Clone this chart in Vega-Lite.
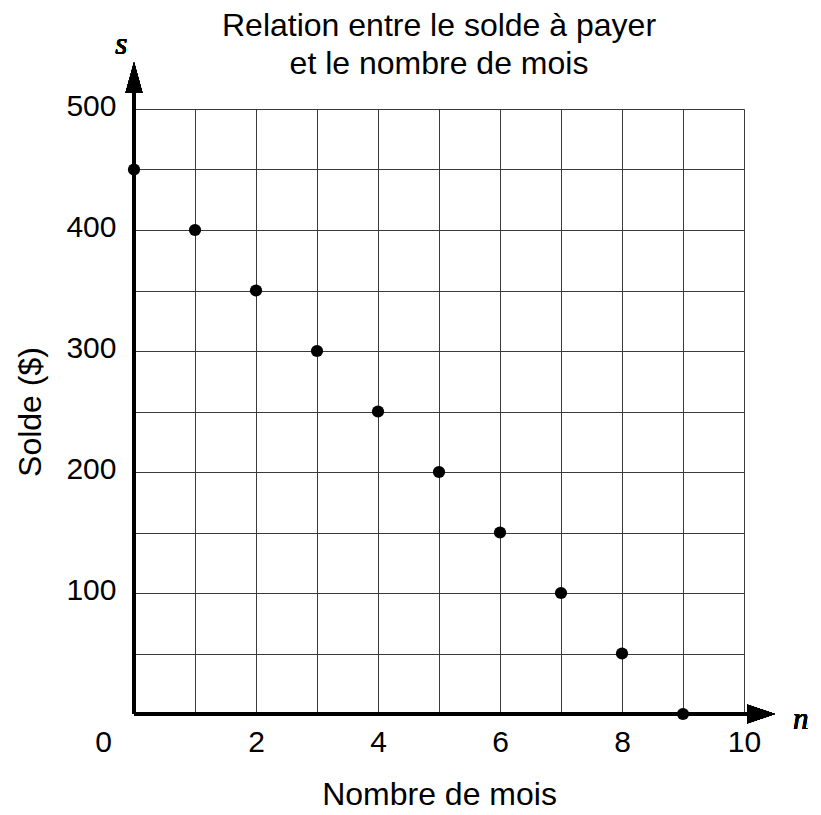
{
  "$schema": "https://vega.github.io/schema/vega-lite/v6.json",
  "width": 610,
  "height": 605,
  "autosize": "none",
  "padding": {"left": 134, "top": 109, "right": 77, "bottom": 101},
  "background": "white",
  "config": {"view": {"stroke": null}, "font": "Liberation Sans"},
  "title": {
    "text": ["Relation entre le solde à payer", "et le nombre de mois"],
    "font": "Liberation Sans",
    "fontSize": 32,
    "fontWeight": "normal",
    "color": "black",
    "anchor": "middle",
    "lineHeight": 38,
    "offset": -52
  },
  "datasets": {
    "points": [
      {"n": 0, "s": 450},
      {"n": 1, "s": 400},
      {"n": 2, "s": 350},
      {"n": 3, "s": 300},
      {"n": 4, "s": 250},
      {"n": 5, "s": 200},
      {"n": 6, "s": 150},
      {"n": 7, "s": 100},
      {"n": 8, "s": 50},
      {"n": 9, "s": 0}
    ]
  },
  "data": {"name": "points"},
  "layer": [
    {
      "mark": {"type": "point", "opacity": 0},
      "encoding": {
        "x": {
          "field": "n",
          "type": "quantitative",
          "scale": {"domain": [0, 10], "nice": false, "zero": true},
          "axis": {
            "title": "Nombre de mois",
            "titleFont": "Liberation Sans",
            "titleFontSize": 32,
            "titleFontWeight": "normal",
            "titleColor": "black",
            "titlePadding": 22,
            "values": [0, 1, 2, 3, 4, 5, 6, 7, 8, 9, 10],
            "format": "d",
            "labelExpr": "datum.value % 2 === 0 ? datum.label : ''",
            "labelFont": "Liberation Sans",
            "labelFontSize": 30,
            "labelColor": "black",
            "labelPadding": 13,
            "labelFlush": false,
            "labelOverlap": false,
            "labelOffset": {"condition": {"test": "datum.value === 0", "value": -31}, "value": 0},
            "domain": false,
            "ticks": false,
            "grid": true,
            "gridColor": "#3a3a3a",
            "gridWidth": 1,
            "gridOpacity": 1
          }
        },
        "y": {
          "field": "s",
          "type": "quantitative",
          "scale": {"domain": [0, 500], "nice": false, "zero": true},
          "axis": {
            "title": "Solde ($)",
            "titleFont": "Liberation Sans",
            "titleFontSize": 32,
            "titleFontWeight": "normal",
            "titleColor": "black",
            "titlePadding": 18,
            "values": [0, 50, 100, 150, 200, 250, 300, 350, 400, 450, 500],
            "format": "d",
            "labelExpr": "datum.value % 100 === 0 && datum.value > 0 ? datum.label : ''",
            "labelFont": "Liberation Sans",
            "labelFontSize": 30,
            "labelColor": "black",
            "labelPadding": 18,
            "labelOffset": -3,
            "labelFlush": false,
            "labelOverlap": false,
            "domain": false,
            "ticks": false,
            "grid": true,
            "gridColor": "#3a3a3a",
            "gridWidth": 1,
            "gridOpacity": 1
          }
        }
      }
    },
    {
      "mark": {"type": "rule", "color": "black", "strokeWidth": 3.5},
      "encoding": {"x": {"datum": 0}, "y": {"datum": 0}, "y2": {"datum": 522}}
    },
    {
      "mark": {"type": "rule", "color": "black", "strokeWidth": 3.5},
      "encoding": {"x": {"datum": 0}, "x2": {"datum": 10.2}, "y": {"datum": 0}}
    },
    {
      "mark": {"type": "point", "shape": "M0,-1L0.55,1L-0.55,1Z", "filled": true, "color": "black", "opacity": 1, "size": 961, "strokeWidth": 0},
      "encoding": {"x": {"datum": 0}, "y": {"datum": 526}}
    },
    {
      "mark": {"type": "point", "shape": "M1,0L-1,-0.68L-1,0.68Z", "filled": true, "color": "black", "opacity": 1, "size": 784, "strokeWidth": 0},
      "encoding": {"x": {"datum": 10.28}, "y": {"datum": 0}}
    },
    {
      "mark": {"type": "text", "font": "Liberation Serif", "fontStyle": "italic", "fontWeight": "normal", "fontSize": 31, "color": "black", "align": "center", "baseline": "middle"},
      "encoding": {"x": {"datum": -0.21}, "y": {"datum": 553}, "text": {"value": "s"}}
    },
    {
      "mark": {"type": "text", "font": "Liberation Serif", "fontStyle": "italic", "fontWeight": "normal", "fontSize": 31, "color": "black", "align": "center", "baseline": "middle"},
      "encoding": {"x": {"datum": 10.93}, "y": {"datum": -5}, "text": {"value": "n"}}
    },
    {
      "mark": {"type": "circle", "color": "black", "opacity": 1, "size": 150},
      "encoding": {
        "x": {"field": "n", "type": "quantitative"},
        "y": {"field": "s", "type": "quantitative"}
      }
    }
  ]
}
